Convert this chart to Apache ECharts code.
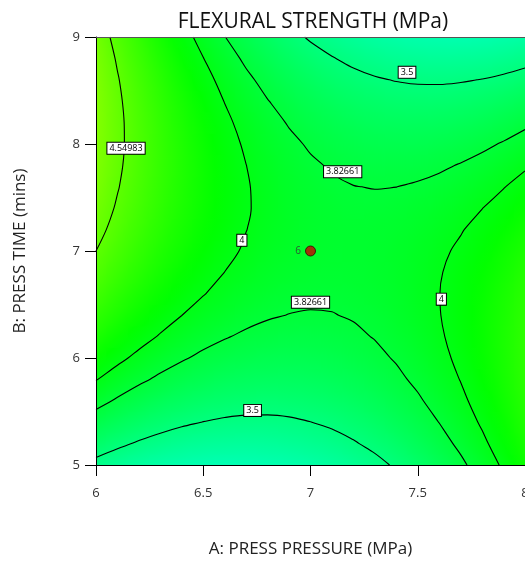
<!DOCTYPE html>
<html>
<head>
<meta charset="utf-8">
<script src="https://cdn.jsdelivr.net/npm/echarts@6/dist/echarts.min.js"></script>
<style>html,body{margin:0;padding:0;background:#fff}#chart{width:525px;height:563px}</style>
</head>
<body>
<div id="chart"></div>
<script>
// ---- data ----
const pressureTicks = [6, 6.5, 7, 7.5, 8];          // A: PRESS PRESSURE (MPa)
const timeTicks = [5, 6, 7, 8, 9];                  // B: PRESS TIME (mins)
const pressureGrid = [6.0,6.1,6.2,6.3,6.4,6.5,6.6,6.7,6.8,6.9,7.0,7.1,7.2,7.3,7.4,7.5,7.6,7.7,7.8,7.9,8.0];
const timeGrid = [5.0,5.2,5.4,5.6,5.8,6.0,6.2,6.4,6.6,6.8,7.0,7.2,7.4,7.6,7.8,8.0,8.2,8.4,8.6,8.8,9.0];
// flexural strength estimated on the grid; one row per press time (5 -> 9), columns by press pressure (6 -> 8)
const strengthGrid = [
  [3.445,3.386,3.336,3.297,3.267,3.248,3.238,3.239,3.249,3.270,3.300,3.341,3.391,3.452,3.522,3.603,3.693,3.794,3.904,4.025,4.155],
  [3.601,3.536,3.481,3.437,3.402,3.377,3.363,3.358,3.363,3.379,3.404,3.439,3.485,3.540,3.605,3.681,3.766,3.861,3.967,4.082,4.208],
  [3.746,3.676,3.616,3.567,3.527,3.497,3.477,3.467,3.468,3.478,3.498,3.528,3.568,3.619,3.679,3.749,3.829,3.919,4.020,4.130,4.250],
  [3.882,3.807,3.742,3.687,3.642,3.607,3.582,3.567,3.562,3.567,3.582,3.607,3.642,3.687,3.742,3.807,3.882,3.967,4.062,4.167,4.283],
  [4.007,3.927,3.857,3.797,3.747,3.707,3.676,3.656,3.646,3.646,3.656,3.676,3.706,3.746,3.796,3.856,3.925,4.005,4.095,4.195,4.305],
  [4.123,4.037,3.962,3.897,3.842,3.796,3.761,3.736,3.721,3.715,3.720,3.735,3.760,3.794,3.839,3.894,3.959,4.033,4.118,4.213,4.318],
  [4.228,4.138,4.057,3.987,3.926,3.876,3.836,3.805,3.785,3.774,3.774,3.784,3.803,3.833,3.872,3.922,3.982,4.051,4.131,4.220,4.320],
  [4.324,4.228,4.142,4.067,4.001,3.946,3.900,3.865,3.839,3.824,3.818,3.822,3.837,3.861,3.896,3.940,3.995,4.059,4.134,4.218,4.313],
  [4.409,4.308,4.218,4.137,4.066,4.006,3.955,3.914,3.883,3.863,3.852,3.851,3.861,3.880,3.909,3.949,3.998,4.057,4.126,4.206,4.295],
  [4.485,4.379,4.283,4.197,4.121,4.055,3.999,3.954,3.918,3.892,3.876,3.870,3.874,3.888,3.913,3.947,3.991,4.045,4.109,4.183,4.268],
  [4.550,4.439,4.338,4.247,4.166,4.095,4.034,3.983,3.942,3.911,3.890,3.879,3.878,3.887,3.906,3.935,3.974,4.023,4.082,4.151,4.230],
  [4.606,4.489,4.383,4.287,4.201,4.125,4.059,4.002,3.956,3.920,3.894,3.878,3.872,3.876,3.889,3.913,3.947,3.991,4.045,4.109,4.183],
  [4.651,4.530,4.418,4.317,4.226,4.145,4.073,4.012,3.961,3.919,3.888,3.867,3.855,3.854,3.863,3.882,3.910,3.949,3.998,4.056,4.125],
  [4.687,4.560,4.444,4.337,4.241,4.154,4.078,4.011,3.955,3.908,3.872,3.846,3.829,3.823,3.826,3.840,3.863,3.897,3.940,3.994,4.058],
  [4.712,4.580,4.459,4.347,4.246,4.154,4.072,4.001,3.939,3.888,3.846,3.814,3.793,3.781,3.780,3.788,3.806,3.835,3.873,3.922,3.980],
  [4.728,4.591,4.464,4.347,4.241,4.144,4.057,3.980,3.914,3.857,3.810,3.773,3.747,3.730,3.723,3.726,3.740,3.763,3.796,3.839,3.893],
  [4.733,4.591,4.459,4.337,4.225,4.124,4.032,3.950,3.878,3.816,3.764,3.722,3.690,3.668,3.656,3.655,3.663,3.681,3.709,3.747,3.795],
  [4.729,4.581,4.444,4.317,4.200,4.093,3.996,3.909,3.832,3.765,3.708,3.661,3.624,3.597,3.580,3.573,3.576,3.589,3.612,3.645,3.688],
  [4.714,4.562,4.420,4.287,4.165,4.053,3.951,3.859,3.776,3.704,3.642,3.590,3.548,3.515,3.493,3.481,3.479,3.487,3.504,3.532,3.570],
  [4.690,4.532,4.385,4.247,4.120,4.003,3.895,3.798,3.711,3.633,3.566,3.509,3.461,3.424,3.397,3.379,3.372,3.375,3.387,3.410,3.443],
  [4.655,4.493,4.340,4.198,4.065,3.943,3.830,3.728,3.635,3.553,3.480,3.418,3.365,3.323,3.290,3.268,3.255,3.253,3.260,3.278,3.305]
];
const contourLevels = [3.5, 3.82661, 4, 4.54983];
// contour label anchors: [pressure, time, index into contourLevels]
const contourLabels = [
  [6.14, 7.96, 3],
  [7.45, 8.67, 0],
  [7.15, 7.74, 1],
  [6.68, 7.10, 2],
  [7.00, 6.52, 1],
  [7.61, 6.55, 2],
  [6.73, 5.51, 0]
];
// design point: [pressure, time, replicate count]
const designPoints = [[7, 7, 6]];

// ---- styling helpers ----
const FONT = '"Open Sans", "Noto Sans", sans-serif';
function colorOf(v) {
  const t = (v - 4.1) / 1.23;
  let r = 0, b = 0;
  if (t < 0) b = Math.min(255, -t * 255); else r = Math.min(255, t * 255);
  return 'rgb(' + Math.round(r) + ',255,' + Math.round(b) + ')';
}

const nA = pressureGrid.length, nB = timeGrid.length;
const cellData = [];
for (let j = 0; j < nB; j++) for (let i = 0; i < nA; i++) cellData.push([pressureGrid[i], timeGrid[j], strengthGrid[j][i], i, j]);

function renderCell(params, api) {
  const i = api.value(3), j = api.value(4);
  const v = strengthGrid[j][i];
  const a = pressureGrid[i], b = timeGrid[j];
  const aL = i > 0 ? (pressureGrid[i - 1] + a) / 2 : a;
  const aR = i < nA - 1 ? (a + pressureGrid[i + 1]) / 2 : a;
  const bD = j > 0 ? (timeGrid[j - 1] + b) / 2 : b;
  const bU = j < nB - 1 ? (b + timeGrid[j + 1]) / 2 : b;
  const pTL = api.coord([aL, bU]), pBR = api.coord([aR, bD]), pC = api.coord([a, b]);
  const iL = Math.max(0, i - 1), iR = Math.min(nA - 1, i + 1);
  const jD = Math.max(0, j - 1), jU = Math.min(nB - 1, j + 1);
  const pxL = api.coord([pressureGrid[iL], b])[0], pxR = api.coord([pressureGrid[iR], b])[0];
  const gx = (strengthGrid[j][iR] - strengthGrid[j][iL]) / (pxR - pxL);
  const pyD = api.coord([a, timeGrid[jD]])[1], pyU = api.coord([a, timeGrid[jU]])[1];
  const gy = (strengthGrid[jU][i] - strengthGrid[jD][i]) / (pyU - pyD);
  const g = Math.hypot(gx, gy);
  const R = 20;
  let fill;
  if (g < 1e-9) fill = colorOf(v);
  else {
    const ux = gx / g, uy = gy / g;
    const stops = [];
    for (let k = 0; k <= 4; k++) { const s = k / 4; stops.push({ offset: s, color: colorOf(v + (2 * s - 1) * R * g) }); }
    fill = { type: 'linear', x: pC[0] - ux * R, y: pC[1] - uy * R, x2: pC[0] + ux * R, y2: pC[1] + uy * R, colorStops: stops, global: true };
  }
  return {
    type: 'rect',
    shape: { x: pTL[0] - 0.5, y: pTL[1] - 0.5, width: pBR[0] - pTL[0] + 1, height: pBR[1] - pTL[1] + 1 },
    style: { fill: fill }
  };
}

// marching squares over the grid -> polylines in data units
function contourPaths(level) {
  const pts = {};
  function edgePoint(key, a1, b1, v1, a2, b2, v2) {
    if (!pts[key]) {
      const t = (level - v1) / (v2 - v1);
      pts[key] = [a1 + (a2 - a1) * t, b1 + (b2 - b1) * t];
    }
    return key;
  }
  const segs = [];
  for (let j = 0; j < nB - 1; j++) {
    for (let i = 0; i < nA - 1; i++) {
      const a0 = pressureGrid[i], a1 = pressureGrid[i + 1], b0 = timeGrid[j], b1 = timeGrid[j + 1];
      const v00 = strengthGrid[j][i], v10 = strengthGrid[j][i + 1], v01 = strengthGrid[j + 1][i], v11 = strengthGrid[j + 1][i + 1];
      const s00 = v00 > level, s10 = v10 > level, s01 = v01 > level, s11 = v11 > level;
      const E = {};
      if (s00 !== s10) E.bottom = edgePoint('h' + i + ',' + j, a0, b0, v00, a1, b0, v10);
      if (s10 !== s11) E.right = edgePoint('v' + (i + 1) + ',' + j, a1, b0, v10, a1, b1, v11);
      if (s01 !== s11) E.top = edgePoint('h' + i + ',' + (j + 1), a0, b1, v01, a1, b1, v11);
      if (s00 !== s01) E.left = edgePoint('v' + i + ',' + j, a0, b0, v00, a0, b1, v01);
      const ks = Object.keys(E);
      if (ks.length === 2) segs.push([E[ks[0]], E[ks[1]]]);
      else if (ks.length === 4) {
        const center = (v00 + v10 + v01 + v11) / 4 > level;
        if (center === s00) { segs.push([E.bottom, E.right]); segs.push([E.top, E.left]); }
        else { segs.push([E.bottom, E.left]); segs.push([E.top, E.right]); }
      }
    }
  }
  const byKey = {};
  segs.forEach((s, idx) => s.forEach(k => { (byKey[k] = byKey[k] || []).push(idx); }));
  const used = new Array(segs.length).fill(false);
  const paths = [];
  const starts = [];
  segs.forEach((s, idx) => { if (byKey[s[0]].length === 1 || byKey[s[1]].length === 1) starts.push(idx); });
  segs.forEach((s, idx) => starts.push(idx));
  starts.forEach(idx => {
    if (used[idx]) return;
    const s = segs[idx];
    let curKey = byKey[s[0]].length === 1 ? s[0] : (byKey[s[1]].length === 1 ? s[1] : s[0]);
    const path = [pts[curKey]];
    let cur = idx;
    while (cur !== undefined && !used[cur]) {
      used[cur] = true;
      const seg = segs[cur];
      const nextKey = seg[0] === curKey ? seg[1] : seg[0];
      path.push(pts[nextKey]);
      curKey = nextKey;
      cur = byKey[nextKey].filter(x => !used[x])[0];
    }
    paths.push(path);
  });
  return paths;
}

const series = [{
  type: 'custom',
  renderItem: renderCell,
  data: cellData,
  clip: true,
  silent: true,
  z: 1
}];
contourLevels.forEach(level => {
  contourPaths(level).forEach(path => {
    series.push({
      type: 'line',
      data: path,
      symbol: 'none',
      showSymbol: false,
      smooth: 0.35,
      clip: true,
      silent: true,
      lineStyle: { color: '#000', width: 1.1 },
      z: 3
    });
  });
});
series.push({
  type: 'scatter',
  data: contourLabels.map(d => ({ value: [d[0], d[1]], name: String(contourLevels[d[2]]) })),
  symbolSize: 2,
  itemStyle: { color: '#ffffff', opacity: 0 },
  silent: true,
  z: 5,
  label: {
    show: true,
    position: 'inside',
    formatter: p => p.name,
    fontFamily: FONT,
    fontSize: 9,
    color: '#000',
    opacity: 1,
    backgroundColor: '#ffffff',
    borderColor: '#000',
    borderWidth: 1,
    padding: [1, 2]
  },
  labelLayout: { hideOverlap: false }
});
series.push({
  type: 'scatter',
  data: designPoints.map(d => ({ value: [d[0], d[1]], name: String(d[2]) })),
  symbol: 'circle',
  symbolSize: 10,
  silent: true,
  z: 6,
  itemStyle: { color: '#c80000', borderColor: '#300', borderWidth: 1 },
  label: { show: true, position: 'left', distance: 4, formatter: p => p.name, fontFamily: FONT, fontSize: 10, color: '#333' }
});

const chart = echarts.init(document.getElementById('chart'), null, { renderer: 'canvas' });
chart.setOption({
  animation: false,
  backgroundColor: '#fff',
  title: {
    text: 'FLEXURAL STRENGTH (MPa)',
    left: 308,
    top: 7,
    textAlign: 'center',
    textStyle: { fontFamily: FONT, fontSize: 21, fontWeight: 'normal', color: '#111' }
  },
  grid: { left: 96, right: 0, top: 37, bottom: 98, containLabel: false, outerBoundsMode: 'none' },
  xAxis: [{
    type: 'value',
    min: pressureTicks[0],
    max: pressureTicks[pressureTicks.length - 1],
    interval: pressureTicks[1] - pressureTicks[0],
    name: 'A: PRESS PRESSURE (MPa)',
    nameLocation: 'middle',
    nameGap: 76,
    nameTextStyle: { fontFamily: FONT, fontSize: 17, color: '#222' },
    axisLine: { show: true, lineStyle: { color: '#000', width: 1 } },
    axisTick: { show: true, length: 11, lineStyle: { color: '#000' } },
    axisLabel: { fontFamily: FONT, fontSize: 13, color: '#333', margin: 22 },
    splitLine: { show: false },
    z: 10
  }, {
    type: 'value',
    position: 'top',
    min: pressureTicks[0],
    max: pressureTicks[pressureTicks.length - 1],
    axisLine: { show: true, onZero: false, lineStyle: { color: '#555', width: 1 } },
    axisTick: { show: false },
    axisLabel: { show: false },
    splitLine: { show: false },
    z: 10
  }],
  yAxis: {
    type: 'value',
    min: timeTicks[0],
    max: timeTicks[timeTicks.length - 1],
    interval: timeTicks[1] - timeTicks[0],
    name: 'B: PRESS TIME (mins)',
    nameLocation: 'middle',
    nameGap: 67,
    nameTextStyle: { fontFamily: FONT, fontSize: 17, color: '#222' },
    axisLine: { show: true, lineStyle: { color: '#000', width: 1 } },
    axisTick: { show: true, length: 11, lineStyle: { color: '#000' } },
    axisLabel: { fontFamily: FONT, fontSize: 13, color: '#333', margin: 16 },
    splitLine: { show: false },
    z: 10
  },
  series: series
});
</script>
</body>
</html>
